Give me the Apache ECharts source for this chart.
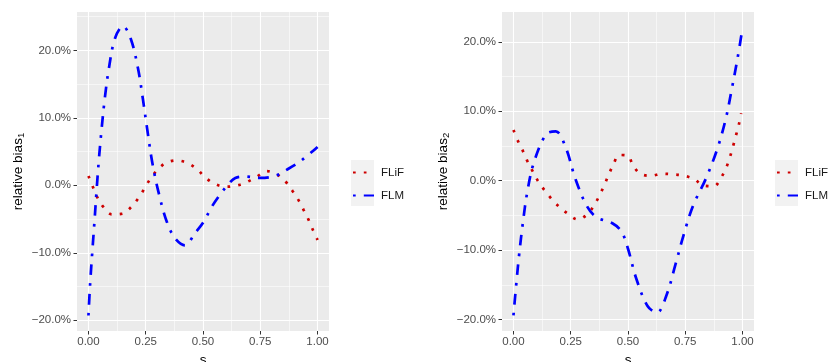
<!DOCTYPE html>
<html>
<head>
<meta charset="utf-8">
<script src="https://cdn.jsdelivr.net/npm/echarts@6/dist/echarts.min.js"></script>
<style>html,body{margin:0;padding:0;background:#fff;}#c{width:828px;height:362px;}</style>
</head>
<body>
<div id="c"></div>
<script>
// ---- data (s values, relative bias in %) ----
const leftFLiF_s = [0,0.019,0.039,0.065,0.102,0.148,0.187,0.218,0.244,0.269,0.299,0.337,0.385,0.433,0.474,0.509,0.549,0.599,0.645,0.692,0.735,0.778,0.824,0.862,0.890,0.917,0.940,0.962,0.981,1.0];
const leftFLiF_v = [1.4,-0.2,-1.8,-3.2,-4.3,-4.2,-3.2,-1.9,-0.5,0.9,2.2,3.3,3.7,3.3,2.4,1.2,0.25,-0.2,-0.05,0.5,1.3,2.1,1.6,0.5,-0.8,-2.2,-3.7,-5.2,-6.7,-8.1];
const leftFLM_s = [0,0.007,0.016,0.026,0.035,0.045,0.057,0.071,0.089,0.116,0.151,0.185,0.217,0.238,0.257,0.278,0.305,0.342,0.379,0.421,0.465,0.503,0.538,0.574,0.608,0.641,0.683,0.749,0.815,0.865,0.930,1.0];
const leftFLM_v = [-19.3,-14.8,-10.2,-5.5,-1.0,3.6,8.2,12.8,17.3,21.8,23.6,21.7,17.2,12.7,8.2,3.5,-0.9,-5.4,-7.9,-8.9,-7.1,-5.4,-3.2,-1.4,0.05,1.1,1.3,1.1,1.4,2.3,3.7,5.7];
const rightFLiF_s = [0,0.020,0.041,0.061,0.083,0.108,0.136,0.168,0.201,0.239,0.281,0.324,0.353,0.376,0.397,0.415,0.436,0.462,0.499,0.522,0.554,0.601,0.650,0.698,0.746,0.790,0.829,0.875,0.907,0.929,0.946,0.959,0.972,0.984,0.994];
const rightFLiF_v = [7.3,5.7,4.3,2.8,1.4,-0.1,-1.4,-2.7,-3.8,-4.8,-5.6,-4.8,-3.5,-2.1,-0.6,0.8,2.3,3.7,3.6,2.2,1.0,0.7,1.0,0.9,0.7,0.2,-0.7,-0.8,0.5,1.9,3.5,5.0,6.6,8.1,9.7];
const rightFLM_s = [0,0.012,0.025,0.041,0.060,0.089,0.143,0.185,0.229,0.270,0.321,0.364,0.430,0.471,0.499,0.536,0.586,0.627,0.668,0.707,0.743,0.784,0.840,0.889,0.926,0.953,0.978,1.0];
const rightFLM_v = [-19.4,-15.0,-10.6,-6.1,-1.7,2.6,6.7,7.1,4.7,0.3,-3.7,-5.3,-6.1,-7.3,-9.7,-14.1,-18.1,-19.0,-16.5,-12.1,-7.8,-3.6,0.3,4.5,8.8,13.2,17.6,22.0];

const xTicks = [0, 0.25, 0.5, 0.75, 1];
const xMinor = [0.125, 0.375, 0.625, 0.875];
const yTicks = [-20, -10, 0, 10, 20];
const leftYMinor = [-15, -5, 5, 15, 25];
const rightYMinor = [-15, -5, 5, 15];
const seriesNames = ['FLiF', 'FLM'];
const yTitles = ['relative bias', 'relative bias'];
const ySubs = ['1', '2'];

const pair = (s, v) => s.map((x, i) => [x, v[i]]);
const FONT = '"Liberation Sans", Arial, Helvetica, sans-serif';
const grids = [
  {left: 77, top: 12, width: 252, height: 319},
  {left: 502, top: 12, width: 252, height: 319}
];
const yRanges = [[-21.6, 25.7], [-21.66, 24.3]];

const xAxes = [], yAxes = [];
grids.forEach((g, i) => {
  xAxes.push({
    type: 'value', gridIndex: i, min: -0.05, max: 1.05, position: 'bottom',
    name: 's', nameLocation: 'middle', nameGap: 20,
    nameTextStyle: {fontFamily: FONT, fontSize: 13.5, color: '#000'},
    axisLine: {show: false, onZero: false},
    axisTick: {show: true, length: 3.5, customValues: xTicks, lineStyle: {color: '#333', width: 1}},
    axisLabel: {customValues: xTicks, margin: 5, fontFamily: FONT, fontSize: 11.5, color: '#4d4d4d',
      formatter: v => v.toFixed(2)},
    splitLine: {show: true, lineStyle: {color: '#fff', width: 1.1}}
  });
  yAxes.push({
    type: 'value', gridIndex: i, min: yRanges[i][0], max: yRanges[i][1], position: 'left',
    name: '{a|' + yTitles[i] + '}{b|' + ySubs[i] + '}', nameLocation: 'middle', nameGap: 51,
    nameTextStyle: {fontFamily: FONT, color: '#000',
      rich: {a: {fontFamily: FONT, fontSize: 13.5, lineHeight: 16, color: '#000'},
             b: {fontFamily: FONT, fontSize: 9.5, lineHeight: 10, verticalAlign: 'bottom', color: '#000'}}},
    axisLine: {show: false, onZero: false},
    axisTick: {show: true, length: 3.5, customValues: yTicks, lineStyle: {color: '#333', width: 1}},
    axisLabel: {customValues: yTicks, margin: 6, fontFamily: FONT, fontSize: 11.5, color: '#4d4d4d',
      formatter: v => (v < 0 ? '\u2212' : '') + Math.abs(v).toFixed(1) + '%'},
    splitLine: {show: true, lineStyle: {color: '#fff', width: 1.1}}
  });
});
// minor grid axes
grids.forEach((g, i) => {
  xAxes.push({
    type: 'value', gridIndex: i, min: -0.05, max: 1.05, position: 'bottom',
    axisLine: {show: false, onZero: false}, axisLabel: {show: false},
    axisTick: {show: false, customValues: xMinor},
    splitLine: {show: true, lineStyle: {color: '#fff', width: 0.55}}
  });
  yAxes.push({
    type: 'value', gridIndex: i, min: yRanges[i][0], max: yRanges[i][1], position: 'left',
    axisLine: {show: false, onZero: false}, axisLabel: {show: false},
    axisTick: {show: false, customValues: i === 0 ? leftYMinor : rightYMinor},
    splitLine: {show: true, lineStyle: {color: '#fff', width: 0.55}}
  });
});

const RED = '#cd0000', BLUE = '#0000ff';
const LW = 2.7;
const dotted = [LW, LW * 3];
const dotdash = [LW, LW * 3, LW * 4, LW * 3];
function mk(name, data, gi, color, dash) {
  return {
    type: 'line', name: name, data: data, xAxisIndex: gi, yAxisIndex: gi,
    symbol: 'none', smooth: 0.35, clip: true,
    lineStyle: {color: color, width: LW, type: dash, cap: 'butt'},
    itemStyle: {color: color},
    z: 3
  };
}
const series = [
  mk(seriesNames[0], pair(leftFLiF_s, leftFLiF_v), 0, RED, dotted),
  mk(seriesNames[1], pair(leftFLM_s, leftFLM_v), 0, BLUE, dotdash),
  mk(seriesNames[0] + ' ', pair(rightFLiF_s, rightFLiF_v), 1, RED, dotted),
  mk(seriesNames[1] + ' ', pair(rightFLM_s, rightFLM_v), 1, BLUE, dotdash)
];

function legend(left, names) {
  return {
    data: names, orient: 'vertical', left: left, top: 166.5, padding: 0,
    itemWidth: 21, itemHeight: 14, itemGap: 11,
    itemStyle: {opacity: 0},
    textStyle: {fontFamily: FONT, fontSize: 11.5, color: '#1a1a1a', padding: [0, 0, 0, 2]},
    formatter: n => n.trim(), selectedMode: false
  };
}

const chart = echarts.init(document.getElementById('c'), null, {renderer: 'canvas'});
chart.setOption({
  animation: false,
  backgroundColor: '#fff',
  grid: grids.map(g => Object.assign({show: true, backgroundColor: '#ebebeb', borderWidth: 0,
    outerBoundsMode: 'none', containLabel: false}, g)),
  xAxis: xAxes,
  yAxis: yAxes,
  graphic: [
    {type: 'rect', shape: {x: 351, y: 160, width: 23, height: 46}, style: {fill: '#f2f2f2'}, z: -1},
    {type: 'rect', shape: {x: 775, y: 160, width: 23, height: 46}, style: {fill: '#f2f2f2'}, z: -1}
  ],
  legend: [legend(352, [seriesNames[0], seriesNames[1]]), legend(776, [seriesNames[0] + ' ', seriesNames[1] + ' '])],
  series: series
});
</script>
</body>
</html>
